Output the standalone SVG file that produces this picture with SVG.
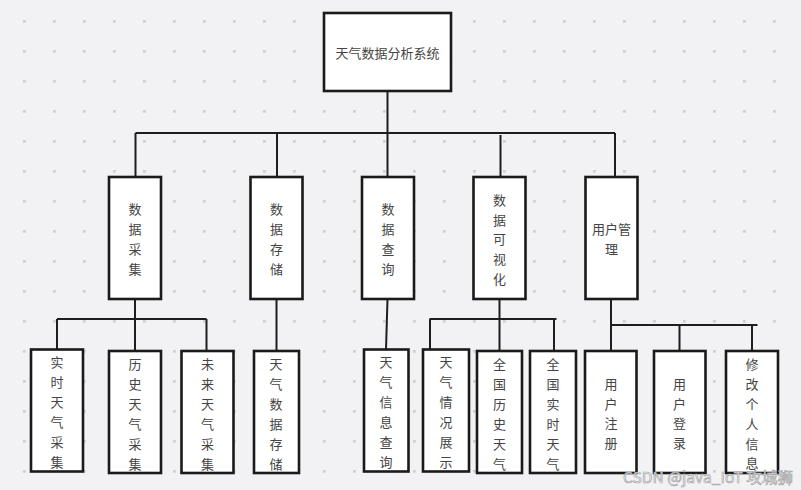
<svg xmlns="http://www.w3.org/2000/svg" width="801" height="490" viewBox="0 0 801 490">
<defs>
<pattern id="dots" patternUnits="userSpaceOnUse" x="0" y="0" width="30" height="30">
<rect x="23" y="20" width="2.7" height="2.7" fill="#cfcfd1"/>
</pattern>
<style>
.box{fill:#ffffff;stroke:#1a1a1a;stroke-width:2.6}
.lbl{font-family:"Noto Sans CJK SC","Noto Sans",sans-serif;font-size:13px;fill:#444444;text-anchor:middle;dominant-baseline:central}
.con path{fill:none;stroke:#1e1e1e;stroke-width:2}
.wm{font-family:"Noto Sans CJK SC","Liberation Sans",sans-serif;font-size:15px;fill:#ffffff;fill-opacity:0.85;stroke:#a8a8a8;stroke-width:0.7}
</style>
</defs>
<rect x="0" y="0" width="801" height="490" fill="#f2f2f4"/>
<rect x="0" y="0" width="801" height="490" fill="url(#dots)"/>

<g id="connectors" class="con">
<path d="M387.5 91 V133"/>
<path d="M135.5 133 H615"/>
<path d="M135.5 133 V177"/>
<path d="M277 133 V177"/>
<path d="M387.5 133 V177"/>
<path d="M500.5 135 V177"/>
<path d="M615 133 V177"/>
<path d="M135 299 V351"/>
<path d="M57 319 H206.5"/>
<path d="M57 319 V349.5"/>
<path d="M206.5 319 V351"/>
<path d="M276.5 299 V351"/>
<path d="M387.5 299 L386 349.5"/>
<path d="M499.5 299 V351"/>
<path d="M429.5 319 H556.5"/>
<path d="M430 319 V349.5"/>
<path d="M554 319 V351"/>
<path d="M611 299 V351"/>
<path d="M611 325 H757.5"/>
<path d="M679.5 325 V351"/>
<path d="M752 325 V351"/>
</g>

<g id="root">
<rect class="box" x="324" y="13" width="127" height="78"/>
<text class="lbl" x="387.5" y="52">天气数据分析系统</text>
</g>

<g id="n1">
<rect class="box" x="109" y="177" width="52" height="122"/>
<text class="lbl"><tspan x="135" y="208">数</tspan><tspan x="135" y="228">据</tspan><tspan x="135" y="248">采</tspan><tspan x="135" y="268">集</tspan></text>
</g>
<g id="n2">
<rect class="box" x="250.5" y="177" width="52" height="122"/>
<text class="lbl"><tspan x="276.5" y="208">数</tspan><tspan x="276.5" y="228">据</tspan><tspan x="276.5" y="248">存</tspan><tspan x="276.5" y="268">储</tspan></text>
</g>
<g id="n3">
<rect class="box" x="362" y="177" width="52" height="122"/>
<text class="lbl"><tspan x="388" y="208">数</tspan><tspan x="388" y="228">据</tspan><tspan x="388" y="248">查</tspan><tspan x="388" y="268">询</tspan></text>
</g>
<g id="n4">
<rect class="box" x="473.5" y="177" width="52" height="122"/>
<text class="lbl"><tspan x="499.5" y="199">数</tspan><tspan x="499.5" y="218.7">据</tspan><tspan x="499.5" y="238.4">可</tspan><tspan x="499.5" y="258.1">视</tspan><tspan x="499.5" y="277.8">化</tspan></text>
</g>
<g id="n5">
<rect class="box" x="585.5" y="177" width="52" height="122"/>
<text class="lbl"><tspan x="611.5" y="228">用户管</tspan><tspan x="611.5" y="248">理</tspan></text>
</g>

<g id="b1">
<rect class="box" x="31" y="349.5" width="52" height="122"/>
<text class="lbl"><tspan x="57" y="361">实</tspan><tspan x="57" y="381">时</tspan><tspan x="57" y="401">天</tspan><tspan x="57" y="421">气</tspan><tspan x="57" y="441">采</tspan><tspan x="57" y="461">集</tspan></text>
</g>
<g id="b2">
<rect class="box" x="109" y="351" width="52" height="122"/>
<text class="lbl"><tspan x="135" y="363">历</tspan><tspan x="135" y="383">史</tspan><tspan x="135" y="403">天</tspan><tspan x="135" y="423">气</tspan><tspan x="135" y="443">采</tspan><tspan x="135" y="463">集</tspan></text>
</g>
<g id="b3">
<rect class="box" x="181.5" y="351" width="52" height="122"/>
<text class="lbl"><tspan x="207.5" y="363">未</tspan><tspan x="207.5" y="383">来</tspan><tspan x="207.5" y="403">天</tspan><tspan x="207.5" y="423">气</tspan><tspan x="207.5" y="443">采</tspan><tspan x="207.5" y="463">集</tspan></text>
</g>
<g id="b4">
<rect class="box" x="254" y="351" width="45" height="122"/>
<text class="lbl"><tspan x="276" y="363">天</tspan><tspan x="276" y="383">气</tspan><tspan x="276" y="403">数</tspan><tspan x="276" y="423">据</tspan><tspan x="276" y="443">存</tspan><tspan x="276" y="463">储</tspan></text>
</g>
<g id="b5">
<rect class="box" x="364" y="349.5" width="44.5" height="122"/>
<text class="lbl"><tspan x="386" y="361">天</tspan><tspan x="386" y="381">气</tspan><tspan x="386" y="401">信</tspan><tspan x="386" y="421">息</tspan><tspan x="386" y="441">查</tspan><tspan x="386" y="461">询</tspan></text>
</g>
<g id="b6">
<rect class="box" x="423" y="349.5" width="46" height="122"/>
<text class="lbl"><tspan x="446" y="361">天</tspan><tspan x="446" y="381">气</tspan><tspan x="446" y="401">情</tspan><tspan x="446" y="421">况</tspan><tspan x="446" y="441">展</tspan><tspan x="446" y="461">示</tspan></text>
</g>
<g id="b7">
<rect class="box" x="477" y="351" width="45" height="122"/>
<text class="lbl"><tspan x="499.5" y="363">全</tspan><tspan x="499.5" y="383">国</tspan><tspan x="499.5" y="403">历</tspan><tspan x="499.5" y="423">史</tspan><tspan x="499.5" y="443">天</tspan><tspan x="499.5" y="463">气</tspan></text>
</g>
<g id="b8">
<rect class="box" x="530" y="351" width="46" height="122"/>
<text class="lbl"><tspan x="553" y="363">全</tspan><tspan x="553" y="383">国</tspan><tspan x="553" y="403">实</tspan><tspan x="553" y="423">时</tspan><tspan x="553" y="443">天</tspan><tspan x="553" y="463">气</tspan></text>
</g>
<g id="b9">
<rect class="box" x="585" y="351" width="51.5" height="122"/>
<text class="lbl"><tspan x="611" y="383">用</tspan><tspan x="611" y="402.5">户</tspan><tspan x="611" y="422">注</tspan><tspan x="611" y="441.5">册</tspan></text>
</g>
<g id="b10">
<rect class="box" x="654" y="351" width="51.5" height="122"/>
<text class="lbl"><tspan x="679.5" y="383">用</tspan><tspan x="679.5" y="402.5">户</tspan><tspan x="679.5" y="422">登</tspan><tspan x="679.5" y="441.5">录</tspan></text>
</g>
<g id="b11">
<rect class="box" x="726" y="351" width="52" height="122"/>
<text class="lbl"><tspan x="752" y="363">修</tspan><tspan x="752" y="383">改</tspan><tspan x="752" y="403">个</tspan><tspan x="752" y="423">人</tspan><tspan x="752" y="443">信</tspan><tspan x="752" y="462">息</tspan></text>
</g>

<text class="wm" x="623" y="483" textLength="170" lengthAdjust="spacingAndGlyphs">CSDN @java_IoT 攻城狮</text>
</svg>
